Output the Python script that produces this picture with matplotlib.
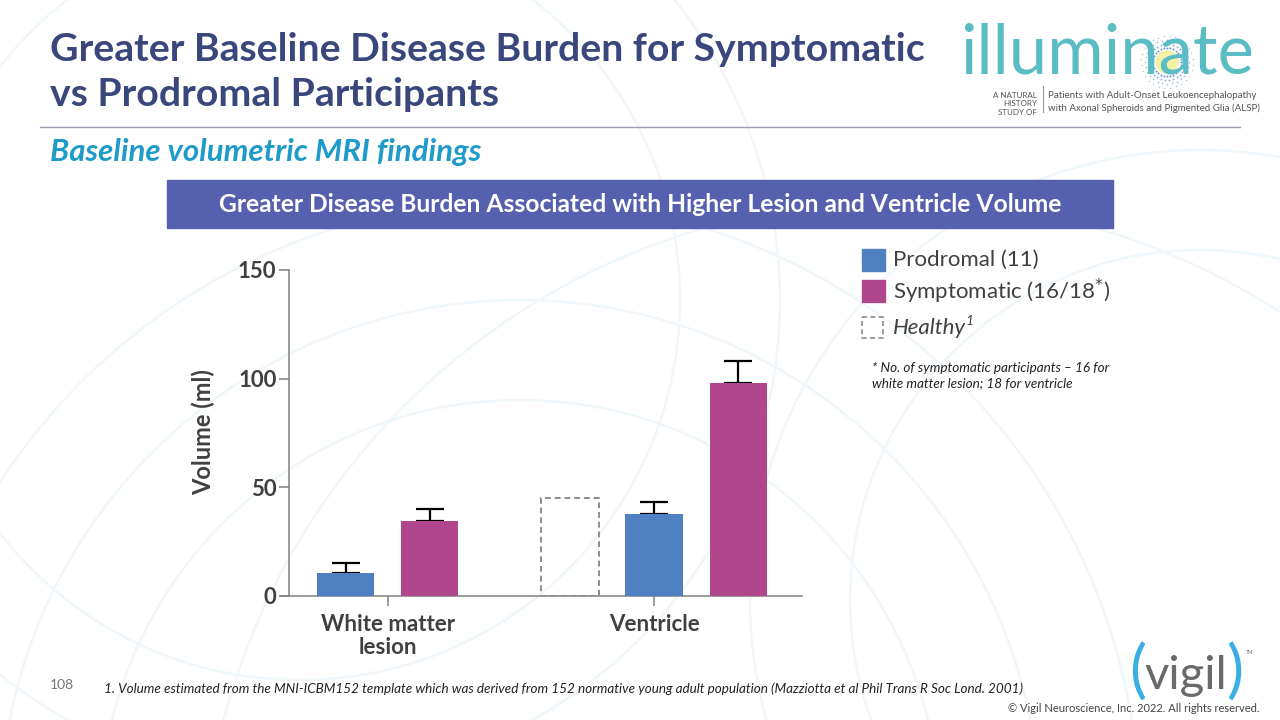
import matplotlib
matplotlib.use("Agg")
import matplotlib.pyplot as plt
from matplotlib.patches import Rectangle, Arc
import numpy as np

# ---------------- data ----------------
categories = ["White matter\nlesion", "Ventricle"]
prodromal = [10.5, 37.7]
prodromal_err = [4.6, 5.6]
symptomatic = [34.5, 98.0]
symptomatic_err = [5.5, 10.1]
healthy_ventricle = 45.0
y_ticks = [0, 50, 100, 150]

BLUE = "#4F81C2"
MAGENTA = "#B0468C"
NAVY = "#39477C"
TEXT = "#404040"
TEAL = "#5BBDC4"

W, H = 1280, 720
plt.rcParams['font.family'] = ['Lato', 'DejaVu Sans']
fig = plt.figure(figsize=(12.8, 7.2), dpi=100)

def fx(px):
    return px / W

def fy(py):
    return 1 - py / H

# faint background arcs
bg = fig.add_axes([0, 0, 1, 1], zorder=-10)
bg.set_xlim(0, W); bg.set_ylim(H, 0); bg.axis('off')
for (cx, cy, r) in [(520, 820, 420), (520, 820, 520), (520, 820, 620), (1200, 600, 350),
                    (1200, 600, 450), (300, 300, 380), (300, 300, 480), (900, 900, 700)]:
    bg.add_patch(Arc((cx, cy), 2 * r, 2 * r, color="#F0F7FB", lw=1.8))

# ---------------- title area ----------------
fig.text(fx(50), fy(61), "Greater Baseline Disease Burden for Symptomatic",
         color=NAVY, fontsize=28.3, fontweight='bold', va='baseline', ha='left')
fig.text(fx(50), fy(106), "vs Prodromal Participants",
         color=NAVY, fontsize=28.3, fontweight='bold', va='baseline', ha='left')
bg.plot([40, 1240], [127, 127], color="#9A9AB0", lw=1)
fig.text(fx(50), fy(152), "Baseline volumetric MRI findings", color="#1E9BC9",
         fontsize=22.5, fontweight='bold', fontstyle='italic', va='center', ha='left')

# banner
bg.add_patch(Rectangle((167, 180), 946, 48, color="#5560AE", zorder=1))
fig.text(fx(640), fy(205), "Greater Disease Burden Associated with Higher Lesion and Ventricle Volume",
         color="white", fontsize=17.7, fontweight='bold', ha='center', va='center')

# illuminate logo
ang = np.linspace(0, 2 * np.pi, 28, endpoint=False)
for k, rr in enumerate([14, 18, 22, 26]):
    a = ang + k * 0.11
    bg.scatter(1167 + rr * np.cos(a), 62 + rr * np.sin(a), s=2.2 - 0.35 * k,
               color="#3F7FC0", alpha=0.75 - 0.12 * k, zorder=2, linewidths=0)
bg.add_patch(plt.Circle((1167, 62), 11, color="#F3F1A8", zorder=3))
fig.text(fx(960), fy(54), "illuminate", color=TEAL, fontsize=49.5, ha='left', va='center',
         zorder=5)
fig.text(fx(1037), fy(104), "A NATURAL\nHISTORY\nSTUDY OF", color="#555555", fontsize=5.8,
         ha='right', va='center', linespacing=1.25)
bg.plot([1043, 1043], [86, 112], color="#999999", lw=0.8)
fig.text(fx(1048), fy(102), "Patients with Adult-Onset Leukoencephalopathy\nwith Axonal Spheroids and Pigmented Glia (ALSP)",
         color="#555555", fontsize=7, ha='left', va='center', linespacing=1.5)

# ---------------- chart ----------------
ax = fig.add_axes([fx(280), fy(596), fx(802) - fx(280), (596 - 270) / H])
ax.set_facecolor('none')
grp = [0.0, 3.17]
bw = 0.68
x_prod = [grp[0] - 0.5, grp[1]]
x_symp = [grp[0] + 0.5, grp[1] + 1.0]
x_healthy = grp[1] - 1.0

ax.bar(x_prod, prodromal, width=bw, color=BLUE, zorder=3)
ax.bar(x_symp, symptomatic, width=bw, color=MAGENTA, zorder=3)
ax.bar([x_healthy], [healthy_ventricle], width=bw, facecolor='none', edgecolor="#8C8C8C",
       linestyle=(0, (3, 2)), linewidth=1.4, zorder=3)
ax.errorbar(x_prod, prodromal, yerr=[[0] * len(prodromal), prodromal_err], fmt='none',
            ecolor='black', elinewidth=1.6, capsize=10, capthick=1.6, zorder=2)
ax.errorbar(x_symp, symptomatic, yerr=[[0] * len(symptomatic), symptomatic_err], fmt='none',
            ecolor='black', elinewidth=1.6, capsize=10, capthick=1.6, zorder=2)

ax.set_xlim(-1.28, 4.93)
ax.set_ylim(0, 150)
for s in ['top', 'right']:
    ax.spines[s].set_visible(False)
ax.spines['left'].set_position(('data', -1.173))
for s in ['left', 'bottom']:
    ax.spines[s].set_color("#808080")
    ax.spines[s].set_linewidth(1.1)
ax.set_yticks(y_ticks)
ax.set_yticklabels([str(v) for v in y_ticks], fontsize=16, fontweight='bold', color=TEXT)
ax.set_xticks(grp)
ax.set_xticklabels(categories, fontsize=16, fontweight='bold', color=TEXT, linespacing=1.1)
ax.tick_params(axis='both', color="#808080", length=7, width=1.1, direction='out')
ax.tick_params(axis='y', pad=2)
ax.tick_params(axis='x', pad=6)
fig.text(fx(203), fy(432), "Volume (ml)", rotation=90, fontsize=17, fontweight='bold',
         color=TEXT, ha='center', va='center')

# ---------------- legend ----------------
bg.add_patch(Rectangle((862, 249), 23, 22, color=BLUE))
bg.add_patch(Rectangle((862, 280), 23, 22, color=MAGENTA))
bg.add_patch(Rectangle((862, 317), 21, 21, facecolor='none', edgecolor="#8C8C8C",
                       linestyle=(0, (3, 2)), lw=1.2))
fig.text(fx(893), fy(260), "Prodromal (11)", fontsize=16, color=TEXT, ha='left', va='center')
fig.text(fx(893), fy(291), r"Symptomatic (16/18$^{*}$)", fontsize=16, color=TEXT, ha='left', va='center')
fig.text(fx(893), fy(328), "Healthy", fontsize=16, color=TEXT, fontstyle='italic', ha='left', va='center')
fig.text(fx(966), fy(321), "1", fontsize=10, color=TEXT, fontstyle='italic', ha='left', va='center')
fig.text(fx(872), fy(376), "* No. of symptomatic participants \u2013 16 for\nwhite matter lesion; 18 for ventricle",
         fontsize=9.7, color="#222222", fontstyle='italic', ha='left', va='center', linespacing=1.3)

# ---------------- footer ----------------
fig.text(fx(50), fy(685), "108", fontsize=10, color="#777777", ha='left', va='center')
fig.text(fx(104), fy(689), "1. Volume estimated from the MNI-ICBM152 template which was derived from 152 normative young adult population (Mazziotta et al Phil Trans R Soc Lond. 2001)",
         fontsize=9.7, color="#222222", fontstyle='italic', ha='left', va='center')
fig.text(fx(1186), fy(676), "vigil", fontsize=34, color="#6A6A6A", ha='center', va='center')
fig.text(fx(1138), fy(673), "(", fontsize=46, color="#3AAFE5", ha='center', va='center')
fig.text(fx(1236), fy(673), ")", fontsize=46, color="#3AAFE5", ha='center', va='center')
fig.text(fx(1250), fy(653), "TM", fontsize=3.5, color="#777777", ha='center', va='center')
fig.text(fx(1260), fy(709), "\u00a9 Vigil Neuroscience, Inc. 2022. All rights reserved.", fontsize=8,
         color="#444444", ha='right', va='center')

fig.savefig("out.png", dpi=100)
